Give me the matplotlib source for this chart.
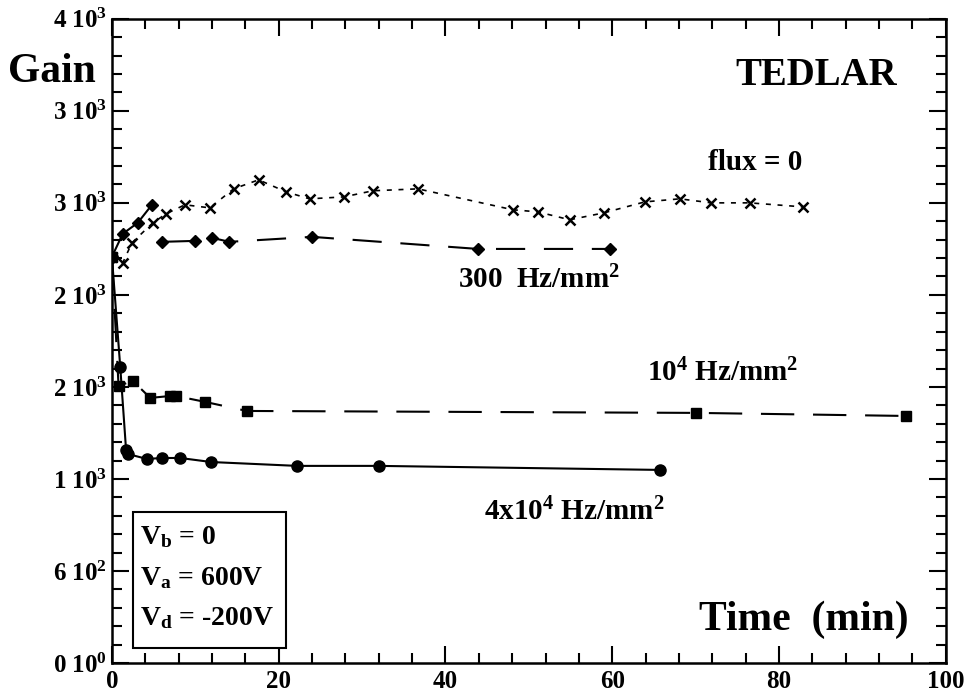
import numpy as np
import matplotlib.pyplot as plt
from matplotlib.patches import Rectangle

# ---------------------------------------------------------
# DATA
# ---------------------------------------------------------

# flux = 0 (crosses, short dashes)
t_flux0 = [0, 1.3, 2.4, 4.9, 6.5, 8.75, 11.75, 14.6, 17.6, 20.9, 23.7, 27.8, 31.3,
           36.7, 48.1, 51.1, 54.9, 59.0, 63.9, 68.1, 71.9, 76.5, 82.9]
g_flux0 = [2522, 2484, 2609, 2733, 2789, 2845, 2826, 2944, 3000, 2925, 2882, 2894, 2932,
           2944, 2814, 2801, 2752, 2795, 2863, 2882, 2857, 2857, 2832]

# 300 Hz/mm2 (diamonds): early rise, then long dashes
t_300a = [0, 1.3, 3.1, 4.8]
g_300a = [2522, 2665, 2733, 2845]
t_300b = [6.0, 10.0, 12.0, 14.1, 24.0, 43.9, 59.7]
g_300b = [2615, 2621, 2640, 2615, 2646, 2571, 2571]

# 1e4 Hz/mm2 (squares)
t_1e4 = [0, 0.8, 2.5, 4.6, 7.0, 7.7, 11.2, 16.2, 70.1, 95.2]
g_1e4 = [2522, 1720, 1752, 1646, 1658, 1658, 1621, 1565, 1553, 1534]

# 4x1e4 Hz/mm2 (circles, solid)
t_4e4 = [0, 1.0, 1.7, 1.9, 4.2, 6.0, 8.2, 11.9, 22.2, 32.0, 65.7]
g_4e4 = [2522, 1839, 1323, 1298, 1267, 1273, 1273, 1248, 1224, 1224, 1199]

yticks = np.linspace(0, 4000, 8)
ytick_labels = [r'0 $\mathregular{10^0}$', r'6 $\mathregular{10^2}$', r'1 $\mathregular{10^3}$',
                r'2 $\mathregular{10^3}$', r'2 $\mathregular{10^3}$', r'3 $\mathregular{10^3}$',
                r'3 $\mathregular{10^3}$', r'4 $\mathregular{10^3}$']
xticks = [0, 20, 40, 60, 80, 100]

# ---------------------------------------------------------
# PLOTTING
# ---------------------------------------------------------

plt.rcParams['font.family'] = 'Liberation Serif'
plt.rcParams['font.weight'] = 'bold'
plt.rcParams['mathtext.default'] = 'regular'

fig = plt.figure(figsize=(9.73, 6.95), dpi=100)
ax = fig.add_axes([0.115, 0.046, 0.857, 0.927])

ax.plot(t_flux0, g_flux0, color='black', linestyle=(0, (3, 4)), linewidth=1.2,
        marker='x', markersize=7, markeredgewidth=1.8)
ax.plot(t_300a, g_300a, color='black', linestyle='-', linewidth=1.5,
        marker='D', markersize=6)
ax.plot(t_300b, g_300b, color='black', linestyle=(0, (14, 9)), linewidth=1.5,
        marker='D', markersize=6)
ax.plot(t_1e4, g_1e4, color='black', linestyle=(0, (16, 9)), linewidth=1.5,
        marker='s', markersize=7)
ax.plot(t_4e4, g_4e4, color='black', linestyle='-', linewidth=1.5,
        marker='o', markersize=8)

ax.set_xlim(0, 100)
ax.set_ylim(0, 4000)
ax.set_xticks(xticks)
ax.set_xticks(np.arange(0, 101, 4), minor=True)
ax.set_yticks(yticks)
ax.set_yticks(np.linspace(0, 4000, 36), minor=True)
ax.set_yticklabels(ytick_labels)

ax.tick_params(which='both', direction='in', top=True, right=True, labelsize=18, width=1.5)
ax.tick_params(which='major', length=12)
ax.tick_params(which='minor', length=7)
ax.tick_params(axis='x', pad=5)
for lab in ax.get_xticklabels() + ax.get_yticklabels():
    lab.set_fontweight('bold')
for sp in ax.spines.values():
    sp.set_linewidth(1.8)

# Labels and annotations
fig.text(0.008, 0.896, 'Gain', fontsize=30, fontweight='bold', va='center', ha='left')
ax.text(0.941, 0.912, 'TEDLAR', transform=ax.transAxes, fontsize=28, fontweight='bold',
        ha='right', va='center')
ax.text(0.955, 0.067, 'Time  (min)', transform=ax.transAxes, fontsize=30, fontweight='bold',
        ha='right', va='center')
ax.text(77.2, 3105, 'flux = 0', fontsize=21, fontweight='bold', ha='center', va='center')
ax.text(51.2, 2379, r'300  Hz/mm$^2$', fontsize=21, fontweight='bold', ha='center', va='center')
ax.text(73.2, 1801, r'10$^4$ Hz/mm$^2$', fontsize=21, fontweight='bold', ha='center', va='center')
ax.text(55.4, 938, r'4x10$^4$ Hz/mm$^2$', fontsize=21, fontweight='bold', ha='center', va='center')

# Voltage box
ax.add_patch(Rectangle((0.025, 0.023), 0.184, 0.211, transform=ax.transAxes,
                       facecolor='white', edgecolor='black', linewidth=1.5, zorder=3))
box_lines = [r'V$_\mathregular{b}$ = 0', r'V$_\mathregular{a}$ = 600V', r'V$_\mathregular{d}$ = -200V']
box_y = [0.196, 0.131, 0.070]
for s, yy in zip(box_lines, box_y):
    ax.text(0.034, yy, s, transform=ax.transAxes, fontsize=20, fontweight='bold',
            ha='left', va='center', zorder=4)

plt.savefig('out.png', dpi=100)
